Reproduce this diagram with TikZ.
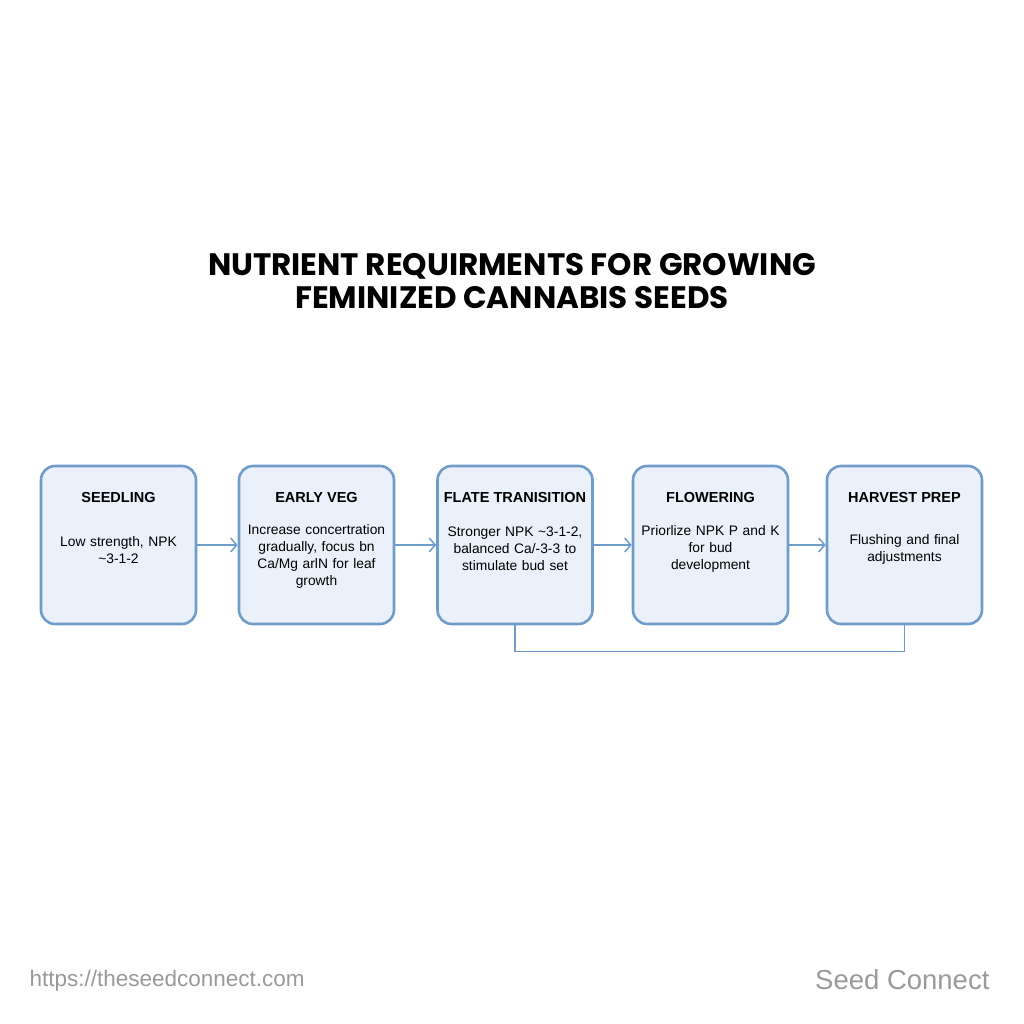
\documentclass[tikz,border=0pt]{standalone}
\usepackage{fontspec}
\setmainfont{Liberation Sans}
\newfontfamily\titlefont{Poppins}
\usetikzlibrary{arrows.meta, positioning}
\definecolor{boxline}{HTML}{6F9CC9}
\definecolor{boxfill}{HTML}{EAF1FB}
\definecolor{footgray}{HTML}{9A9A9A}

\begin{document}
\begin{tikzpicture}[x=1pt, y=-1pt,
  stage/.style = {draw = boxline, line width = 2.6pt, fill = boxfill, rounded corners = 14pt,
                  minimum width = 155pt, minimum height = 158pt},
  head/.style = {font = \fontsize{14.5}{17}\selectfont\bfseries},
  body/.style = {font = \fontsize{13.8}{17}\selectfont, align = center, text width = 150pt},
  link/.style = {draw = boxline, line width = 1.5pt, -{Straight Barb[length=6pt, width=14pt]}}]
\useasboundingbox (0,0) rectangle (1024,1024);
\fill[white] (0,0) rectangle (1024,1024);
% title
\node[font = \titlefont\fontsize{31}{33}\selectfont\bfseries, align = center] (title) at (512,281)
  {NUTRIENT REQUIRMENTS FOR GROWING\\FEMINIZED CANNABIS SEEDS};
% stages
\node[stage] (seed) at (118.5,545) {};
\node[stage] (veg) at (316.5,545) {};
\node[stage] (late) at (515,545) {};
\node[stage] (flow) at (710.5,545) {};
\node[stage] (harv) at (904.5,545) {};
\node[head] (seedh) at (118.5,498) {SEEDLING};
\node[head] (vegh) at (316.5,498) {EARLY VEG};
\node[head] (lateh) at (515,498) {FLATE TRANISITION};
\node[head] (flowh) at (710.5,498) {FLOWERING};
\node[head] (harvh) at (904.5,498) {HARVEST PREP};
\node[body] (seedb) at (118.5,550) {Low strength, NPK\\\textasciitilde3-1-2};
\node[body] (vegb) at (316.5,556) {Increase concertration\\gradually, focus bn\\Ca/Mg arlN for leaf\\growth};
\node[body] (lateb) at (515,549) {Stronger NPK \textasciitilde3-1-2,\\balanced Ca/-3-3 to\\stimulate bud set};
\node[body] (flowb) at (710.5,549) {Priorlize NPK P and K\\for bud\\development};
\node[body] (harvb) at (904.5,549) {Flushing and final\\adjustments};
% connectors
\draw[link] (seed) -- (veg);
\draw[link] (veg) -- (late);
\draw[link] (late) -- (flow);
\draw[link] (flow) -- (harv);
\draw[draw = boxline, line width = 1.5pt] (late.south) -- ++(0,26) -| (harv.south);
% footer
\node[font = \fontsize{22.5}{26}\selectfont, text = footgray, anchor = west] (url) at (26,981) {https://theseedconnect.com};
\node[font = \fontsize{27.5}{30}\selectfont, text = footgray, anchor = east] (brand) at (993,980) {Seed Connect};
\end{tikzpicture}
\end{document}
